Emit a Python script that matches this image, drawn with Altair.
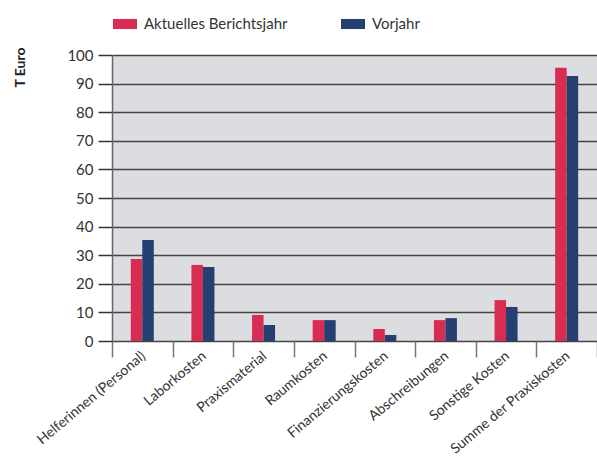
import altair as alt
import pandas as pd

categories = ["Helferinnen (Personal)", "Laborkosten", "Praxismaterial", "Raumkosten",
              "Finanzierungskosten", "Abschreibungen", "Sonstige  Kosten", "Summe der Praxiskosten"]
series_names = ["Aktuelles Berichtsjahr", "Vorjahr"]
current_year = [28.7, 26.6, 9.1, 7.3, 4.2, 7.3, 14.3, 95.5]
previous_year = [35.3, 25.9, 5.6, 7.3, 2.1, 8.0, 11.9, 92.7]
colors = ["#d82c52", "#243f70"]

rows = []
for c, a, b in zip(categories, current_year, previous_year):
    rows.append({"Kategorie": c, "Serie": series_names[0], "Wert": a})
    rows.append({"Kategorie": c, "Serie": series_names[1], "Wert": b})
df = pd.DataFrame(rows)

FONT = "Lato"

chart = alt.Chart(df).mark_bar().encode(
    x=alt.X("Kategorie:N", sort=categories,
            scale=alt.Scale(paddingInner=0, paddingOuter=0),
            axis=alt.Axis(title=None, labelAngle=-40, labelAlign="right", labelBaseline="middle",
                          tickBand="extent", tickSize=16, tickColor="#777", tickWidth=1.5,
                          domain=False, labelFontSize=14, labelColor="#333", labelFont=FONT,
                          labelPadding=-3, labelOffset=1, labelOverlap=False)),
    xOffset=alt.XOffset("Serie:N", sort=series_names,
                        scale=alt.Scale(paddingInner=0, paddingOuter=0, range=[18.8, 41.8])),
    y=alt.Y("Wert:Q", scale=alt.Scale(domain=[0, 100], nice=False),
            axis=alt.Axis(values=list(range(0, 101, 10)), title="T Euro", titleAngle=270,
                          titleX=-92, titleY=12, titleAlign="center", titleBaseline="middle",
                          titleFont=FONT, titleFontSize=14, titleFontWeight="bold", titleColor="#222",
                          labelFont=FONT, labelFontSize=15, labelColor="#333", labelPadding=5,
                          tickSize=14, tickColor="#333", tickWidth=1.5,
                          domainColor="#666", domainWidth=1.5,
                          grid=True, gridColor="#444", gridWidth=1.5)),
    color=alt.Color("Serie:N", sort=series_names,
                    scale=alt.Scale(domain=series_names, range=colors),
                    legend=alt.Legend(title=None, orient="none", direction="horizontal",
                                      legendX=1, legendY=-43,
                                      symbolType="M-1,-0.42H1V0.42H-1Z", symbolSize=576,
                                      symbolStrokeWidth=0, symbolOpacity=1,
                                      labelFont=FONT, labelFontSize=15, labelColor="#333",
                                      labelOffset=7, columnPadding=53)),
).properties(
    width=485, height=286,
    autosize=alt.AutoSizeParams(type="none"),
    padding={"left": 112, "top": 55, "right": 0, "bottom": 115},
).configure_view(fill="#dcdde0", stroke=None)

chart.save("out.html", embed_options={"renderer": "svg", "actions": False})
